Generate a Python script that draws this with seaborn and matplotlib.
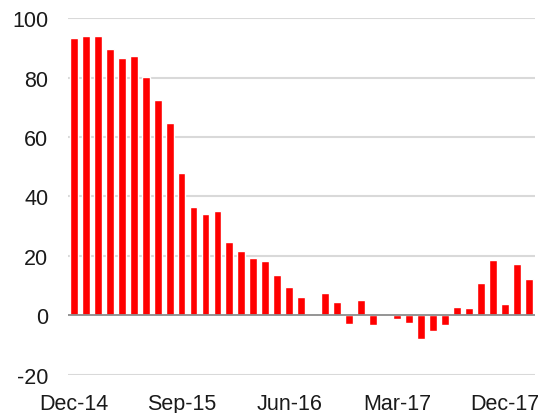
import pandas as pd
import matplotlib
matplotlib.use('Agg')
import matplotlib.pyplot as plt
import seaborn as sns

# monthly values, Dec-14 .. Feb-18
months = list(pd.date_range('2014-12-01', periods=39, freq='MS').strftime('%b-%y'))
values = [93.3, 93.9, 93.8, 89.7, 86.5, 87.1, 80.1, 72.5, 64.7, 47.8,
          36.3, 34.2, 35.2, 24.8, 21.7, 19.4, 18.3, 13.6, 9.7, 6.3,
          0.4, 7.4, 4.5, -2.8, 5.1, -3.1, 0.2, -1.3, -2.5, -7.9,
          -5.4, -3.3, 2.9, 2.6, 10.9, 18.5, 4.0, 17.2, 12.4]
tick_labels = ['Dec-14', 'Sep-15', 'Jun-16', 'Mar-17', 'Dec-17']
y_ticks = [-20, 0, 20, 40, 60, 80, 100]

df = pd.DataFrame({'month': months, 'value': values})

sns.set_style('white')
plt.rcParams['font.family'] = ['Liberation Sans', 'DejaVu Sans']

fig = plt.figure(figsize=(5.38, 4.14), dpi=100)
ax = fig.add_axes([0.126, 0.092, 0.868, 0.862])

for t in y_ticks:
    if t == 0:
        ax.axhline(t, color='#8c8c8c', lw=1.3, zorder=3)
    else:
        ax.axhline(t, color='#d9d9d9', lw=1.5, zorder=0)

sns.barplot(data=df, x='month', y='value', color='#ff0000',
            saturation=1, width=0.66, ax=ax, zorder=2)

ax.set_xlim(-0.5, len(months) - 0.5)
ax.set_ylim(-20, 100)
ax.set_yticks(y_ticks)
ax.set_yticklabels([str(t) for t in y_ticks])
ax.set_xticks([months.index(m) for m in tick_labels])
ax.set_xticklabels(tick_labels)
ax.tick_params(axis='both', labelsize=15.5, colors='#1a1a1a', length=0)
ax.tick_params(axis='y', pad=14)
ax.tick_params(axis='x', pad=13)
ax.set_xlabel('')
ax.set_ylabel('')
for s in ax.spines.values():
    s.set_visible(False)

fig.savefig('out.png', dpi=100)
